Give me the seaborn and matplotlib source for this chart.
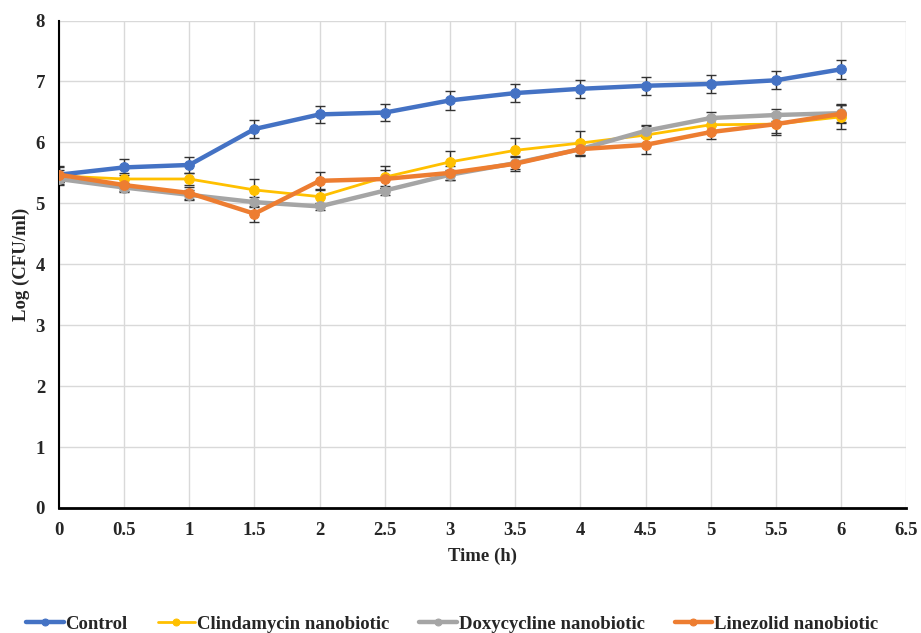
import matplotlib
matplotlib.use("Agg")
import matplotlib.pyplot as plt
import seaborn as sns
import pandas as pd

time_h = [0, 0.5, 1, 1.5, 2, 2.5, 3, 3.5, 4, 4.5, 5, 5.5, 6]

control = [5.47, 5.59, 5.63, 6.22, 6.46, 6.49, 6.69, 6.81, 6.88, 6.93, 6.96, 7.02, 7.20]
clindamycin = [5.45, 5.40, 5.40, 5.22, 5.11, 5.43, 5.68, 5.87, 5.99, 6.12, 6.29, 6.30, 6.42]
doxycycline = [5.40, 5.26, 5.14, 5.02, 4.95, 5.21, 5.47, 5.66, 5.89, 6.19, 6.40, 6.45, 6.48]
linezolid = [5.47, 5.30, 5.17, 4.83, 5.37, 5.40, 5.50, 5.65, 5.89, 5.96, 6.17, 6.30, 6.47]

control_err = [0.15, 0.13, 0.13, 0.14, 0.14, 0.14, 0.15, 0.15, 0.15, 0.15, 0.15, 0.15, 0.16]
clindamycin_err = [0.10, 0.10, 0.10, 0.18, 0.12, 0.18, 0.18, 0.20, 0.20, 0.15, 0.12, 0.15, 0.20]
doxycycline_err = [0.10, 0.08, 0.08, 0.08, 0.06, 0.08, 0.08, 0.10, 0.10, 0.10, 0.10, 0.10, 0.15]
linezolid_err = [0.12, 0.10, 0.10, 0.13, 0.15, 0.15, 0.12, 0.12, 0.12, 0.15, 0.12, 0.18, 0.15]

series = [
    ("Control", control, control_err, "#4472C4", 3.2),
    ("Clindamycin nanobiotic", clindamycin, clindamycin_err, "#FFC000", 2.0),
    ("Doxycycline nanobiotic", doxycycline, doxycycline_err, "#A5A5A5", 3.2),
    ("Linezolid nanobiotic", linezolid, linezolid_err, "#ED7D31", 3.2),
]

sns.set_style("white")
plt.rcParams["font.family"] = ["Liberation Serif", "DejaVu Serif"]
plt.rcParams["font.weight"] = "bold"

fig = plt.figure(figsize=(9.21, 6.33), dpi=100)
ax = fig.add_axes([0.064, 0.1975, 0.92, 0.77])

for name, vals, errs, color, lw in series:
    df = pd.DataFrame({"time": time_h, "value": vals})
    ax.errorbar(time_h, vals, yerr=errs, fmt="none", ecolor="#333333",
                elinewidth=1, capsize=3.5, capthick=1, zorder=2)
    sns.lineplot(data=df, x="time", y="value", ax=ax, color=color,
                 linewidth=lw, marker="o", markersize=7,
                 markeredgecolor=color, label=name, zorder=3)

ax.set_xlim(0, 6.5)
ax.set_ylim(0, 8)
ax.set_xticks([i * 0.5 for i in range(14)])
ax.set_xticklabels(["0", "0.5", "1", "1.5", "2", "2.5", "3", "3.5", "4",
                    "4.5", "5", "5.5", "6", "6.5"])
ax.set_yticks(range(9))
ax.grid(True, color="#D9D9D9", linewidth=1)
ax.set_axisbelow(True)
for s in ["top", "right"]:
    ax.spines[s].set_visible(False)
ax.spines["left"].set_color("black")
ax.spines["left"].set_linewidth(1.5)
ax.spines["bottom"].set_color("black")
ax.spines["bottom"].set_linewidth(2)
ax.tick_params(axis="both", length=0, labelsize=13.5, pad=10)
for lab in ax.get_xticklabels() + ax.get_yticklabels():
    lab.set_fontweight("bold")

ax.set_xlabel("Time (h)", fontsize=13.5, fontweight="bold", labelpad=6)
ax.set_ylabel("Log (CFU/ml)", fontsize=13.5, fontweight="bold", labelpad=4)

leg = ax.legend(loc="center", bbox_to_anchor=(0.464, -0.238), ncol=4,
                frameon=False, prop={"size": 13.5, "weight": "bold"},
                handlelength=2.0, handletextpad=0.1, columnspacing=1.6,
                borderaxespad=0)
for h in leg.legend_handles:
    h.set_markersize(5)

fig.savefig("out.png", dpi=100)
